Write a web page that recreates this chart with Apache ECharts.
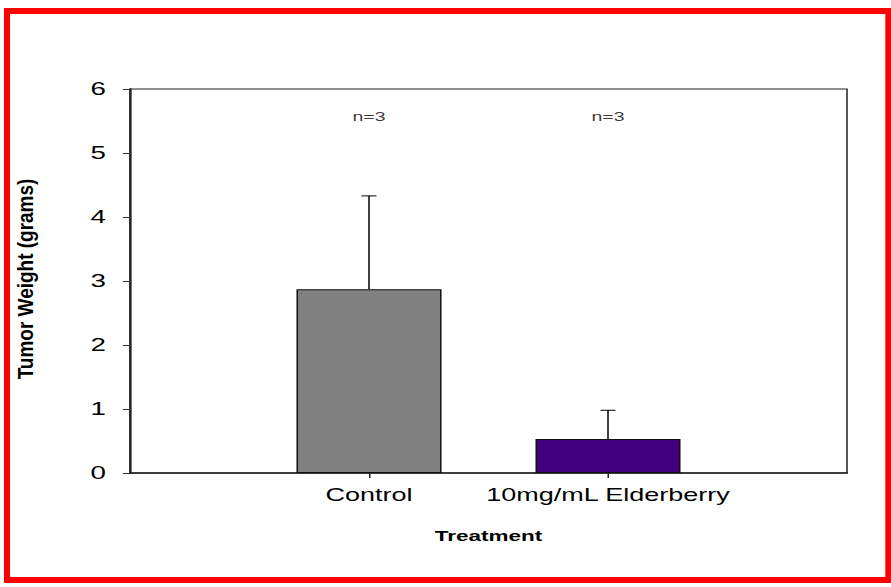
<!DOCTYPE html>
<html>
<head>
<meta charset="utf-8">
<script src="https://cdn.jsdelivr.net/npm/echarts@6/dist/echarts.min.js"></script>
<style>
  html, body { margin: 0; padding: 0; background: #fff; overflow: hidden; }
  /* The figure is laid out narrow and widened 1.5x, giving the wide lettering of the original plot */
  #chart { width: 594px; height: 587px; transform: scaleX(1.5); transform-origin: 0 0; }
</style>
</head>
<body>
<div id="chart"></div>
<script>
// Tumor weight by treatment group (mean with upper SD bar)
const categories = ['Control', '10mg/mL Elderberry'];
const meanWeight = [2.87, 0.53];
const sdWeight = [1.46, 0.45];
const groupSize = ['n=3', 'n=3'];
const barColors = ['#808080', '#42007f'];
const yTicks = [0, 1, 2, 3, 4, 5, 6];
const nLabelLevel = 5.57;

const FONT = '"Liberation Sans", Arial, Helvetica, sans-serif';
const xPos = categories.map((c, i) => i + 1);

const chart = echarts.init(document.getElementById('chart'), null, { renderer: 'svg' });

const barData = meanWeight.map((v, i) => ({
  value: [xPos[i], v],
  itemStyle: { color: barColors[i] }
}));
const errData = meanWeight.map((v, i) => [xPos[i], v, sdWeight[i]]);
const nData = groupSize.map((t, i) => ({ value: [xPos[i], nLabelLevel], name: t }));

chart.setOption({
  animation: false,
  backgroundColor: '#fff',
  grid: {
    left: 86.67, right: 29.33, top: 89, bottom: 114,
    show: true, borderColor: '#222', borderWidth: 1, backgroundColor: 'transparent'
  },
  xAxis: {
    type: 'value',
    min: 0, max: categories.length + 1, interval: 1,
    name: 'Treatment',
    nameLocation: 'middle',
    nameGap: 55,
    nameTextStyle: { fontFamily: FONT, fontWeight: 'bold', fontSize: 15, color: '#000' },
    axisLine: { show: true, lineStyle: { color: '#222', width: 1.5 } },
    axisTick: { show: true, customValues: xPos, length: 5, lineStyle: { color: '#222', width: 1 } },
    axisLabel: {
      customValues: xPos,
      formatter: v => categories[Math.round(v) - 1] || '',
      fontFamily: FONT, fontSize: 18, color: '#000', margin: 13
    },
    splitLine: { show: false }
  },
  yAxis: {
    type: 'value',
    min: yTicks[0], max: yTicks[yTicks.length - 1], interval: 1,
    axisLine: { show: true, lineStyle: { color: '#222', width: 1.5 } },
    axisTick: { show: true, length: 4.7, lineStyle: { color: '#333', width: 1 } },
    axisLabel: { fontFamily: FONT, fontSize: 18.5, color: '#000', margin: 16 },
    splitLine: { show: false }
  },
  series: [
    {
      type: 'bar',
      data: barData,
      barWidth: 96.7,
      itemStyle: { borderColor: '#111', borderWidth: 1 },
      z: 2
    },
    {
      type: 'custom',
      data: errData,
      z: 3,
      renderItem: (params, api) => {
        const x = api.value(0), m = api.value(1), e = api.value(2);
        const base = api.coord([x, m]);
        const top = api.coord([x, m + e]);
        const st = { stroke: '#000', lineWidth: 1 };
        return {
          type: 'group',
          children: [
            { type: 'line', shape: { x1: base[0], y1: base[1], x2: top[0], y2: top[1] }, style: st },
            { type: 'line', shape: { x1: top[0] - 5, y1: top[1], x2: top[0] + 5, y2: top[1] }, style: st }
          ]
        };
      }
    },
    {
      type: 'scatter',
      data: nData,
      symbolSize: 0,
      label: {
        show: true, position: 'inside', formatter: p => p.name,
        fontFamily: FONT, fontSize: 13, color: '#000'
      },
      z: 4
    }
  ],
  graphic: [
    {
      type: 'text',
      x: 16.67, y: 279,
      rotation: Math.PI / 2,
      scaleX: 1, scaleY: 0.8,
      style: {
        text: 'Tumor Weight (grams)',
        font: 'bold 19px ' + FONT,
        fill: '#000',
        align: 'center',
        verticalAlign: 'middle'
      }
    },
    // red frame around the figure
    { type: 'rect', shape: { x: 2.67, y: 8, width: 4, height: 575 }, style: { fill: '#ff0000' } },
    { type: 'rect', shape: { x: 590.2, y: 8, width: 3.8, height: 575 }, style: { fill: '#ff0000' } },
    { type: 'rect', shape: { x: 2.67, y: 8, width: 591.33, height: 6 }, style: { fill: '#ff0000' } },
    { type: 'rect', shape: { x: 2.67, y: 577, width: 591.33, height: 6 }, style: { fill: '#ff0000' } }
  ]
});
</script>
</body>
</html>
